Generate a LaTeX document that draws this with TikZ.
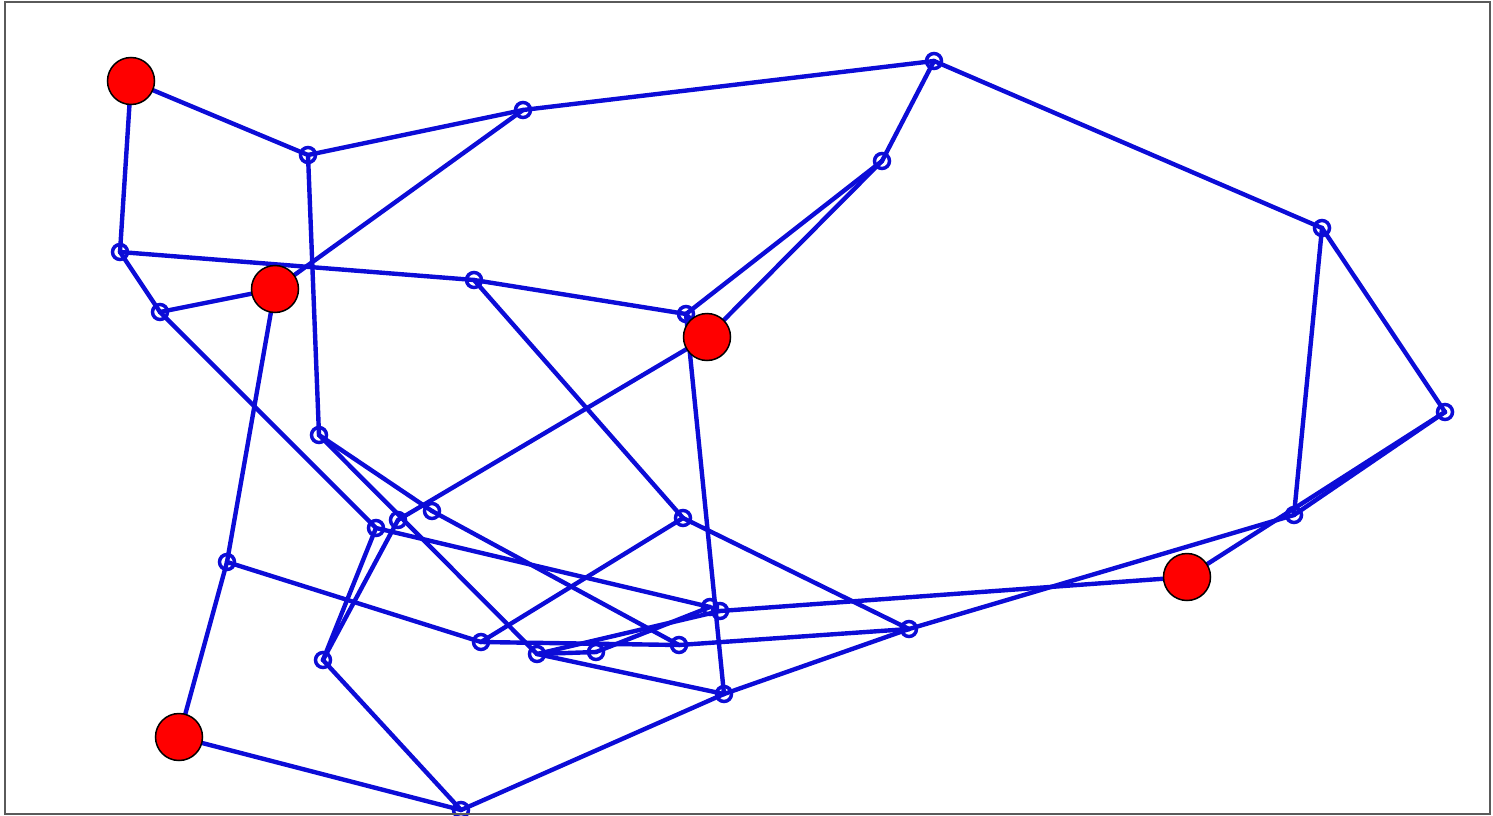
\documentclass[tikz,border=0pt]{standalone}
\pgfdeclarelayer{background}
\pgfsetlayers{background,main}
\definecolor{edgeblue}{RGB}{12,12,215}
\definecolor{anchorred}{RGB}{255,0,0}
\definecolor{framegray}{RGB}{90,90,90}
\tikzset{
  sensor/.style={circle, draw=edgeblue, line width=3.5pt, minimum size=15pt, inner sep=0pt},
  anchor node/.style={circle, draw=black, fill=anchorred, line width=1.5pt, minimum size=47pt, inner sep=0pt},
  link/.style={edgeblue, line width=4.4pt, line cap=round},
  frame/.style={draw=framegray, line width=1.6pt}
}
\begin{document}
\begin{tikzpicture}[x=1pt,y=-1pt]
\useasboundingbox (0,0) rectangle (1493,816);
% sensor nodes
\node[sensor] (A) at (308,155) {};
\node[sensor] (B) at (523,110) {};
\node[sensor] (C) at (934,61) {};
\node[sensor] (D) at (882,161) {};
\node[sensor] (E) at (1322,228) {};
\node[sensor] (F) at (1445,412) {};
\node[sensor] (G) at (1294,515) {};
\node[sensor] (H) at (120,252) {};
\node[sensor] (I) at (160,312) {};
\node[sensor] (J) at (474,280) {};
\node[sensor] (K) at (686,314) {};
\node[sensor] (L) at (319,435) {};
\node[sensor] (M) at (376,528) {};
\node[sensor] (N) at (398,520) {};
\node[sensor] (O) at (432,511) {};
\node[sensor] (P) at (683,518) {};
\node[sensor] (Q) at (227,562) {};
\node[sensor] (S) at (323,660) {};
\node[sensor] (T) at (481,642) {};
\node[sensor] (U) at (537,654) {};
\node[sensor] (V) at (596,652) {};
\node[sensor] (W) at (679,645) {};
\node[sensor] (X) at (710,607) {};
\node[sensor] (Y) at (720,611) {};
\node[sensor] (Z) at (909,629) {};
\node[sensor] (AA) at (724,694) {};
\node[sensor] (BB) at (461,810) {};
% anchor nodes
\node[anchor node] (R1) at (131,81) {};
\node[anchor node] (R2) at (275,289) {};
\node[anchor node] (R3) at (707,337) {};
\node[anchor node] (R4) at (1187,577) {};
\node[anchor node] (R5) at (179,737) {};
% edges
\begin{pgfonlayer}{background}
\foreach \a/\b in {R1/H, R1/A, A/B, B/C, C/D, C/E, E/F, E/G, F/G, F/R4,
  A/L, B/R2, H/J, J/K, H/I, I/R2, I/M, R2/Q, Q/R5, R5/BB, BB/S, BB/AA,
  S/M, S/N, L/O, L/U, O/W, M/X, N/R3, Q/T, T/P, T/W, U/V, U/Y, V/X,
  U/AA, K/AA, J/P, P/Z, W/Z, Z/AA, Z/G, Y/R4, D/K, D/R3, K/R3}
  \draw[link] (\a.center) -- (\b.center);
\end{pgfonlayer}
\draw[frame] (5,2) rectangle (1490,814);
\end{tikzpicture}
\end{document}
